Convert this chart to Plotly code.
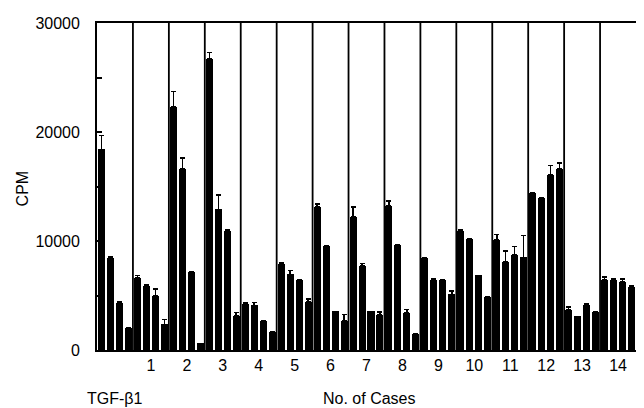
import plotly.graph_objects as go

# Data
group_labels = ["", "1", "2", "3", "4", "5", "6", "7", "8", "9", "10", "11", "12", "13", "14"]
bars_per_group = 4

cpm_values = [
    18400, 8450, 4300, 2000,      # TGF-b1 control
    6600, 5850, 5000, 2350,       # 1
    22300, 16600, 7200, 600,      # 2
    26700, 12900, 10900, 3100,    # 3
    4200, 4100, 2700, 1650,       # 4
    7900, 6950, 6450, 4400,       # 5
    13100, 9500, 3550, 2650,      # 6
    12200, 7700, 3550, 3250,      # 7
    13250, 9600, 3400, 1500,      # 8
    8400, 6400, 6400, 5100,       # 9
    10900, 10200, 6850, 4850,     # 10
    10100, 8100, 8700, 8500,      # 11
    14400, 13950, 16100, 16600,   # 12
    3700, 3080, 4150, 3480,       # 13
    6450, 6450, 6250, 5780,       # 14
]

cpm_error = [
    1300, 150, 100, 0,
    250, 100, 600, 450,
    1400, 1000, 0, 0,
    600, 1300, 100, 350,
    100, 250, 0, 0,
    150, 350, 0, 300,
    300, 100, 0, 600,
    900, 250, 0, 250,
    400, 100, 300, 0,
    100, 150, 0, 300,
    100, 0, 0, 0,
    500, 1000, 800, 2000,
    0, 0, 850, 550,
    250, 0, 100, 0,
    250, 50, 250, 80,
]

y_tick_values = [0, 5000, 10000, 15000, 20000, 25000, 30000]
y_tick_text = ["0", "", "10000", "", "20000", "", "30000"]

n_groups = len(group_labels)
bar_index = list(range(len(cpm_values)))
group_centers = [g * bars_per_group + (bars_per_group - 1) / 2 for g in range(n_groups)]

FONT = "Liberation Sans, Arial, Helvetica, sans-serif"
FS = 16

fig = go.Figure()
fig.add_trace(go.Bar(
    x=bar_index,
    y=cpm_values,
    width=0.78,
    marker=dict(color="black", line=dict(width=0)),
    error_y=dict(type="data", symmetric=False, array=cpm_error,
                 arrayminus=[0] * len(cpm_error),
                 color="black", thickness=1.5, width=2.5),
    showlegend=False,
))

# group separator lines
for g in range(1, n_groups):
    fig.add_shape(type="line", xref="x", yref="y",
                  x0=g * bars_per_group - 0.5, x1=g * bars_per_group - 0.5,
                  y0=0, y1=30000, line=dict(color="black", width=1.8))

fig.update_layout(
    width=636, height=400,
    margin=dict(l=89, r=6, t=15, b=58),
    paper_bgcolor="white", plot_bgcolor="white",
    font=dict(family=FONT, size=FS, color="black"),
    bargap=0,
    xaxis=dict(range=[-0.5, len(cpm_values) - 0.5], showgrid=False, zeroline=False,
               showline=True, mirror=True, linecolor="black", linewidth=1.8,
               tickmode="array", tickvals=group_centers, ticktext=group_labels,
               ticks="", ticklabelstandoff=0, tickfont=dict(size=FS)),
    yaxis=dict(range=[0, 30000], showgrid=False, zeroline=False,
               showline=True, mirror=True, linecolor="black", linewidth=1.8,
               tickmode="array", tickvals=y_tick_values, ticktext=y_tick_text,
               ticks="inside", ticklen=5, tickwidth=1.5, tickcolor="black",
               ticklabelstandoff=12, tickfont=dict(size=FS)),
    annotations=[
        dict(text="CPM", xref="paper", yref="paper", x=-0.1386, y=0.495,
             textangle=-90, showarrow=False, xanchor="center", yanchor="middle",
             font=dict(size=FS)),
        dict(text="TGF-β1", xref="x", yref="paper", x=group_centers[0], y=-0.1468,
             showarrow=False, xanchor="center", yanchor="middle", font=dict(size=FS)),
        dict(text="No. of Cases", xref="paper", yref="paper", x=0.505, y=-0.1468,
             showarrow=False, xanchor="center", yanchor="middle", font=dict(size=FS)),
    ],
)

fig.write_html("out.html")
